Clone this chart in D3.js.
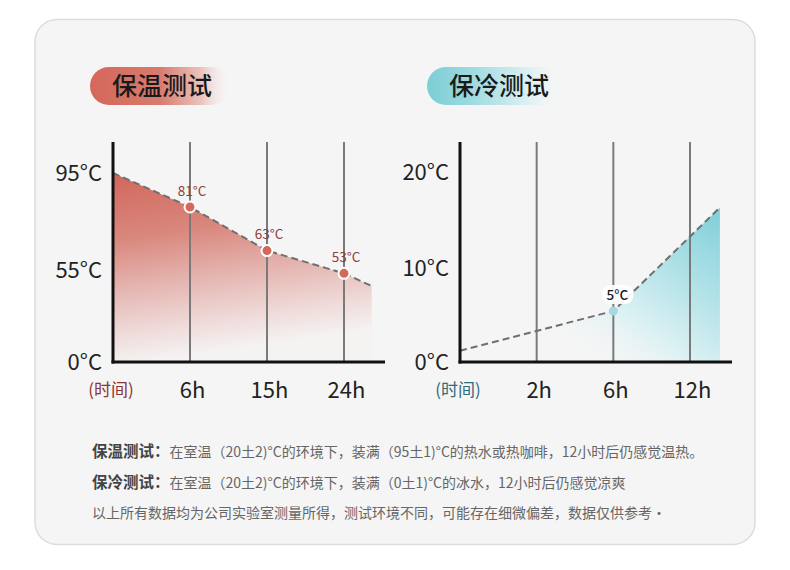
<!DOCTYPE html>
<html>
<head>
<meta charset="utf-8">
<script src="https://cdn.jsdelivr.net/npm/d3@7"></script>
<style>
  html, body { margin: 0; padding: 0; background: #ffffff; }
  svg { display: block; font-family: "Noto Sans CJK SC", "Noto Sans", sans-serif; }
</style>
</head>
<body>
<svg id="chart" width="790" height="570"></svg>
<script>
// ---------------- data ----------------
// hot-keeping test (保温测试)
const hotTitle = "保温测试";
const hotPos = [0, 1, 2, 3, 3.36];          // position on the (evenly spaced) time axis; last = end of curve
const hotTemps = [95, 81, 63, 53, 45.4];     // °C
const hotMarked = [1, 2, 3];                 // indices of labelled points
const hotTickLabels = ["6h", "15h", "24h"];
const hotYTicks = [0, 55, 95];

// cold-keeping test (保冷测试)
const coldTitle = "保冷测试";
const coldPos = [0, 2, 3.39];
const coldTemps = [1.1, 5, 16.3];
const coldMarked = [1];
const coldTickLabels = ["2h", "6h", "12h"];
const coldYTicks = [0, 10, 20];

const axisName = "(时间)";

const notes = [
  ["保温测试：", "在室温（20土2)°C的环境下，装满（95土1)°C的热水或热咖啡，12小时后仍感觉温热。"],
  ["保冷测试：", "在室温（20土2)°C的环境下，装满（0土1)°C的冰水，12小时后仍感觉凉爽"],
  ["", "以上所有数据均为公司实验室测量所得，测试环境不同，可能存在细微偏差，数据仅供参考·"]
];

// ---------------- drawing ----------------
const svg = d3.select("#chart");
const defs = svg.append("defs");

// card
svg.append("rect")
  .attr("x", 35).attr("y", 19.5).attr("width", 720).attr("height", 525)
  .attr("rx", 22).attr("fill", "#f5f5f5").attr("stroke", "#dcdcdc").attr("stroke-width", 1.5);

function gradient(id, attrs, stops) {
  const g = defs.append("linearGradient").attr("id", id);
  Object.entries(attrs).forEach(([k, v]) => g.attr(k, v));
  stops.forEach(s => g.append("stop").attr("offset", s[0]).attr("stop-color", s[1]).attr("stop-opacity", s[2] == null ? 1 : s[2]));
}

// gradients
gradient("pillHot", {x1: 0, x2: 1, y1: 0, y2: 0}, [[0, "#d4675a"], [0.5, "#d87b6f"], [0.8, "#ecc4bf"], [1, "#f5f5f5", 0]]);
gradient("pillCold", {x1: 0, x2: 1, y1: 0, y2: 0}, [[0, "#7ccdd6"], [0.3, "#9ad9df"], [0.75, "#dcf0f2"], [1, "#f5f5f5", 0]]);
gradient("areaHot", {gradientUnits: "userSpaceOnUse", x1: 113, y1: 172, x2: 140, y2: 362},
  [[0, "#d2665a"], [0.35, "#d9877d"], [0.6, "#e4b3ae"], [0.85, "#efdcdb"], [1, "#f5f2f2"]]);
gradient("areaCold", {gradientUnits: "userSpaceOnUse", x1: 600, y1: 370, x2: 715, y2: 205},
  [[0, "#f5f5f5", 0], [0.3, "#dcf1f3"], [0.65, "#ade0e6"], [1, "#80cfd8"]]);

function panel(cfg) {
  const x = d3.scaleLinear().domain([0, 3]).range(cfg.xRange);
  const y = d3.scaleLinear().domain(cfg.yDomain).range(cfg.yRange);
  const base = y(0);
  const top = 142;
  const g = svg.append("g");

  // title pill
  g.append("rect").attr("x", cfg.pill[0]).attr("y", 67).attr("width", cfg.pill[1]).attr("height", 38)
    .attr("rx", 19).attr("fill", `url(#${cfg.pillGrad})`);
  g.append("text").attr("x", cfg.pill[0] + 22).attr("y", 86).attr("dy", "0.36em")
    .attr("font-size", 25).attr("font-weight", 500).attr("fill", "#1a1a1a").text(cfg.title);

  const pts = cfg.pos.map((p, i) => ({p, v: cfg.temps[i]}));

  // area
  g.append("path").datum(pts)
    .attr("d", d3.area().x(d => x(d.p)).y0(base).y1(d => y(d.v)))
    .attr("fill", `url(#${cfg.areaGrad})`);

  // grid lines
  g.selectAll(".grid").data([1, 2, 3]).join("line")
    .attr("x1", d => x(d)).attr("x2", d => x(d)).attr("y1", top).attr("y2", base)
    .attr("stroke", "#7a7a7a").attr("stroke-width", 2);

  // dashed line
  g.append("path").datum(pts)
    .attr("d", d3.line().x(d => x(d.p)).y(d => y(d.v)))
    .attr("fill", "none").attr("stroke", "#6f6f6f").attr("stroke-width", 2).attr("stroke-dasharray", "7,4");

  // axes
  g.append("line").attr("x1", x(0)).attr("x2", x(0)).attr("y1", top).attr("y2", base + 1.5)
    .attr("stroke", "#111").attr("stroke-width", 3);
  g.append("line").attr("x1", x(0) - 1.5).attr("x2", cfg.axisEnd).attr("y1", base).attr("y2", base)
    .attr("stroke", "#111").attr("stroke-width", 3);

  // y tick labels
  g.selectAll(".yt").data(cfg.yTicks).join("text")
    .attr("x", x(0) - 11).attr("y", d => y(d)).attr("dy", "0.36em")
    .attr("text-anchor", "end").attr("font-size", 22).attr("fill", "#222")
    .text(d => d + "°C");

  // x tick labels
  g.selectAll(".xt").data(cfg.xLabels).join("text")
    .attr("x", (d, i) => x(i + 1) + 2.5).attr("y", 390).attr("dy", "0.36em")
    .attr("text-anchor", "middle").attr("font-size", 22).attr("fill", "#222")
    .text(d => d);

  g.append("text").attr("x", x(0) - 2).attr("y", 390).attr("dy", "0.36em")
    .attr("text-anchor", "middle").attr("font-size", 17).attr("fill", cfg.nameColor).text(axisName);

  // marked points
  const marked = cfg.marked.map(i => pts[i]);
  if (cfg.labelBg) {
    g.selectAll(".lb").data(marked).join("rect")
      .attr("x", d => x(d.p) - 11).attr("y", d => y(d.v) - 26).attr("width", 31).attr("height", 19)
      .attr("rx", 8).attr("fill", "#ffffff").attr("opacity", 0.9);
  }
  g.selectAll(".pt").data(marked).join("circle")
    .attr("cx", d => x(d.p)).attr("cy", d => y(d.v)).attr("r", cfg.r)
    .attr("fill", cfg.ptColor).attr("stroke", cfg.ptStroke).attr("stroke-width", 2);
  g.selectAll(".pl").data(marked).join("text")
    .attr("x", d => x(d.p) + cfg.labelDx).attr("y", d => y(d.v) - 16).attr("dy", "0.36em")
    .attr("text-anchor", "middle").attr("font-size", 13.5).attr("fill", cfg.labelColor)
    .attr("font-weight", cfg.labelWeight)
    .text(d => d.v + "°C");
}

panel({
  title: hotTitle, pill: [90, 140], pillGrad: "pillHot", areaGrad: "areaHot",
  xRange: [113, 344], yDomain: [0, 55, 95], yRange: [362, 270, 173], axisEnd: 385,
  pos: hotPos, temps: hotTemps, marked: hotMarked, yTicks: hotYTicks, xLabels: hotTickLabels,
  nameColor: "#8a3434", ptColor: "#d4685a", ptStroke: "#ffffff", r: 5.5,
  labelColor: "#8e3a3a", labelDx: 2, labelWeight: 400, labelBg: false
});

panel({
  title: coldTitle, pill: [427, 135], pillGrad: "pillCold", areaGrad: "areaCold",
  xRange: [460, 690], yDomain: [0, 5, 10, 20], yRange: [362, 311, 268, 172], axisEnd: 732,
  pos: coldPos, temps: coldTemps, marked: coldMarked, yTicks: coldYTicks, xLabels: coldTickLabels,
  nameColor: "#2f6c7c", ptColor: "#a3d9df", ptStroke: "none", r: 4.5,
  labelColor: "#1a1a1a", labelDx: 4, labelWeight: 500, labelBg: true
});

// notes
const noteY = [451, 482, 512];
notes.forEach((n, i) => {
  const t = svg.append("text").attr("x", 92).attr("y", noteY[i]).attr("dy", "0.36em");
  if (n[0]) t.append("tspan").attr("font-size", 15.5).attr("font-weight", 700).attr("fill", "#444").text(n[0]);
  t.append("tspan").attr("font-size", 14).attr("fill", "#666").text(n[1]);
});
</script>
</body>
</html>
